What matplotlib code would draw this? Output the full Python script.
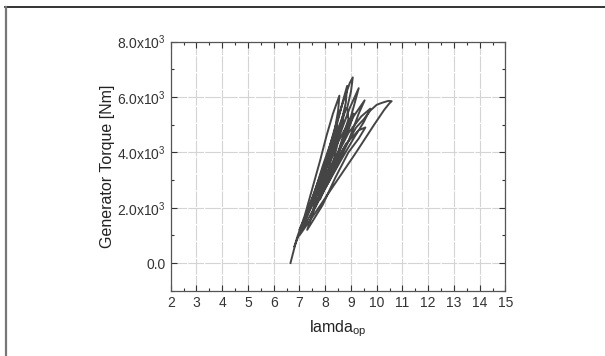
import matplotlib
matplotlib.use("Agg")
import matplotlib.pyplot as plt
from matplotlib.lines import Line2D
from matplotlib.ticker import MultipleLocator

plt.rcParams['font.family'] = ['Liberation Sans', 'DejaVu Sans']
plt.rcParams['mathtext.default'] = 'regular'

# trajectory (lamda_op, torque in Nm)
lamda = [6.65, 6.9, 7.2, 7.5, 7.8, 8.05, 8.3, 8.55,
         8.5, 8.35, 8.15, 7.95, 7.7,
         7.9, 8.15, 8.45, 8.7, 8.85,
         8.8, 8.6, 8.5, 8.3, 7.9, 7.5,
         7.75, 8.05, 8.35, 8.65, 8.95, 9.07,
         9.0, 8.85, 8.9, 8.7, 8.5, 8.2, 7.8,
         8.15, 8.55, 8.95, 9.3,
         9.15, 9.0, 8.8, 8.6, 8.3,
         8.7, 9.1, 9.53,
         9.3, 9.1, 8.9, 8.5, 8.0, 7.6,
         8.2, 8.8, 9.3, 9.56,
         9.3, 8.9, 8.4, 7.9, 7.3,
         7.7, 8.3, 8.9, 9.4, 9.75,
         9.5, 9.1, 8.6, 8.0, 7.4, 7.0,
         7.6, 8.4, 9.2, 9.9, 10.3, 10.5, 10.58,
         10.45, 10.2, 10.0, 9.75, 9.5, 9.2,
         8.9, 8.4, 7.9, 7.4, 7.0,
         7.45, 7.85, 8.2, 8.5, 8.7,
         8.5, 8.1, 7.6, 7.2,
         7.55, 7.9, 8.25, 8.6, 8.8,
         8.6, 8.3, 7.95, 7.5, 7.1,
         7.5, 7.95, 8.4, 8.8, 9.1,
         8.9, 8.5, 8.1, 7.65, 7.2,
         7.6, 7.9, 8.2, 8.45,
         8.3, 8.0, 7.6, 7.1, 6.8]
torque = [0, 900, 1700, 2700, 3700, 4600, 5400, 6050,
          5500, 4700, 3900, 3100, 2200,
          3000, 4000, 5000, 5900, 6400,
          5800, 5000, 4400, 3600, 2600, 1800,
          2800, 3800, 4800, 5700, 6500, 6710,
          6200, 5600, 5200, 4600, 4000, 3200, 2300,
          3500, 4600, 5600, 6320,
          5800, 5300, 4700, 4200, 3400,
          4500, 5300, 5880,
          5400, 4900, 4400, 3600, 2700, 2000,
          3200, 4300, 4800, 4900,
          4500, 4000, 3100, 2100, 1200,
          2300, 3600, 4700, 5300, 5580,
          5100, 4500, 3700, 2700, 1700, 1000,
          1800, 2900, 4000, 5000, 5550, 5780, 5850,
          5860, 5790, 5720, 5510, 5200, 4900,
          4400, 3700, 2900, 2000, 1200,
          2100, 3100, 4000, 4700, 5200,
          4500, 3600, 2500, 1600,
          2500, 3400, 4300, 5100, 5600,
          4900, 4100, 3300, 2300, 1400,
          2300, 3300, 4200, 4900, 5400,
          4800, 4000, 3300, 2500, 1500,
          2600, 3500, 4300, 5000,
          4200, 3300, 2300, 1300, 600]

xticks = list(range(2, 16))
yticks = [0, 2000, 4000, 6000, 8000]
ylabels = ['0.0', '2.0x10$^3$', '4.0x10$^3$', '6.0x10$^3$', '8.0x10$^3$']

fig = plt.figure(figsize=(6.05, 3.56), dpi=100)
ax = fig.add_axes([0.2822, 0.1834, 0.5533, 0.6995])

ax.plot(lamda, torque, color='#454545', linewidth=1.4, zorder=3)

ax.set_xlim(2, 15)
ax.set_ylim(-1000, 8000)
ax.set_xticks(xticks)
ax.set_yticks(yticks)
ax.set_yticklabels(ylabels)
ax.xaxis.set_minor_locator(MultipleLocator(0.5))
ax.yaxis.set_minor_locator(MultipleLocator(1000))
ax.tick_params(which='both', direction='in', top=True, right=True,
               labelsize=10, colors='#333333', width=0.8)
ax.tick_params(which='major', length=4)
ax.tick_params(which='minor', length=2)
ax.grid(True, which='major', color='#d4d4d4', linestyle=(0, (14, 1.2)), linewidth=0.8)
ax.set_axisbelow(True)
for s in ax.spines.values():
    s.set_color('#555555')
    s.set_linewidth(0.9)

ax.set_ylabel('Generator Torque [Nm]', fontsize=11.5, color='#222222')
ax.set_xlabel(r'lamda$_{op}$', fontsize=11.5, color='#222222')
ax.yaxis.set_label_coords(-0.165, 0.5)
ax.xaxis.set_label_coords(0.5, -0.11)

# outer frame of the screenshot
fig.add_artist(Line2D([5 / 605, 1], [1 - 7 / 356, 1 - 7 / 356], color='#111111', linewidth=1.2))
fig.add_artist(Line2D([5.5 / 605, 5.5 / 605], [0, 1 - 7 / 356], color='#777777', linewidth=1.6))

fig.savefig('out.png', dpi=100)
